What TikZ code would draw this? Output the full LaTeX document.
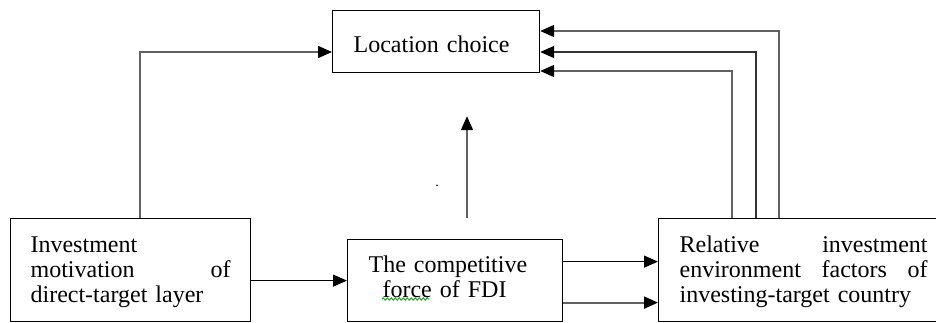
\documentclass[tikz,border=0pt]{standalone}
\usepackage{fontspec}
\setmainfont{Liberation Serif}
\usetikzlibrary{arrows.meta,decorations.pathmorphing}
\begin{document}
\begin{tikzpicture}[x=1pt,y=-1pt,
  box/.style={draw=black,line width=1.2pt,rectangle,inner ysep=0pt,anchor=north west,align=left,font=\fontsize{24}{25}\selectfont},
  blk/.style={draw=black,line width=1.2pt,-{Triangle[length=14pt,width=12pt]}},
  gry/.style={draw=black!62,line width=1.8pt,-{Triangle[length=14pt,width=12pt,color=black]}},
  mix/.style={draw=black!80,line width=1.5pt,-{Triangle[length=14pt,width=12pt,color=black]}},
]
\useasboundingbox (0,0) rectangle (936,322);
\node[box, text width=165pt, inner xsep=21pt, text height=42pt, text depth=20pt] (loc) at (332,10) {Location choice};
\node[box, text width=200pt, inner xsep=20pt, text height=34pt, text depth=69pt] (inv) at (10,218) {Investment\\ motivation\hfill of\\ direct-target layer};
\node[box, text width=173pt, inner xsep=21pt, text height=33pt, text depth=49pt] (cmp) at (347,239) {The competitive\\\hspace*{14pt}force of FDI};
\node[box, text width=248pt, inner xsep=21pt, text height=34pt, text depth=69pt] (rel) at (658,218) {Relative\hfill investment\\ environment\hfill factors\hfill of\\ investing-target country};
% connectors
\draw[gry] ([xshift=130pt]inv.north west) |- ([yshift=-42pt]loc.north west);
\draw[gry] ([xshift=121pt]rel.north west) |- ([yshift=-21pt]loc.north east);
\draw[mix] ([xshift=98pt]rel.north west) |- ([yshift=-42pt]loc.north east);
\draw[gry] ([xshift=74pt]rel.north west) |- ([yshift=-61pt]loc.north east);
\draw[blk] ([yshift=-10.5pt]inv.east) -- ([yshift=-10.5pt]inv.east -| cmp.west);
\draw[blk] ([yshift=19pt]cmp.east) -- ([yshift=19pt]cmp.east -| rel.west);
\draw[gry] ([yshift=-22pt]cmp.east) -- ([yshift=-22pt]cmp.east -| rel.west);
\coordinate (upS) at ([xshift=120pt,yshift=21pt]cmp.north west);
\coordinate (upE) at ([yshift=-43pt]loc.south -| upS);
\draw[gry] (upS) -- (upE);
\node[inner sep=0pt, font=\fontsize{14}{14}\selectfont, anchor=base] (dot) at (437,186) {.};
\draw[green!60!black, line width=0.8pt, decorate, decoration={snake, amplitude=1.2pt, segment length=4pt}] ([xshift=35pt,yshift=-60pt]cmp.north west) -- ++(47,0);
\end{tikzpicture}
\end{document}
